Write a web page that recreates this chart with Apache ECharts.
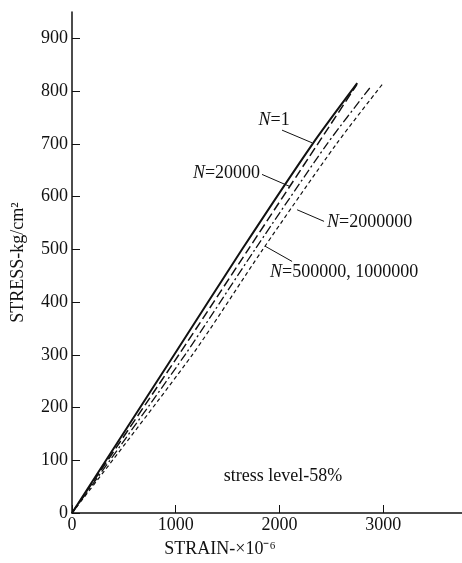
<!DOCTYPE html>
<html>
<head>
<meta charset="UTF-8">
<title>Stress-strain, stress level 58%</title>
<script src="https://cdn.jsdelivr.net/npm/echarts@6/dist/echarts.min.js"></script>
<style>body{margin:0;background:#fff}</style>
</head>
<body>
<div id="main" style="width:462px;height:563px"></div>
<script>
// strain (x10^-6) and stress (kg/cm2)
const strainN1 = [0, 985, 1640, 2320, 2750];
const stressN1 = [0, 300, 500, 700, 815];
const strainN20000 = [0, 1030, 1700, 2370, 2745];
const stressN20000 = [0, 300, 500, 700, 812];
const strainN500k = [0, 1090, 1765, 2460, 2883];
const stressN500k = [0, 300, 500, 700, 809];
const strainN2M = [0, 1160, 1840, 2550, 3000];
const stressN2M = [0, 300, 500, 700, 815];

const labelTexts = ['1', '20000', '2000000', '500000, 1000000'];
const labelAt = [[1948, 745], [1813, 645], [2459, 551], [1909, 457]];
const labelPos = ['inside', 'left', 'right', 'right'];
const leaderFrom = [[2025, 726], [1832, 642], [2170, 575], [1861, 506]];
const leaderTo = [[2314, 702], [2102, 619], [2430, 553], [2122, 477]];
const noteText = 'stress level-58%';
const noteAt = [2035, 70];

const ink = '#111';
const serif = 'Liberation Serif';

function pairs(xs, ys) { return xs.map((x, i) => [x, ys[i]]); }

function curve(name, xs, ys, type, width) {
  return {
    name: name, type: 'line', data: pairs(xs, ys),
    showSymbol: false, silent: true, smooth: 0.25,
    lineStyle: {color: ink, width: width, type: type}
  };
}

const chart = echarts.init(document.getElementById('main'));
chart.setOption({
  animation: false,
  grid: {left: 72, right: 0, top: 12, bottom: 48, containLabel: false},
  xAxis: {
    type: 'value', min: 0, max: 3760, interval: 1000,
    name: 'STRAIN-×10⁻⁶', nameLocation: 'middle', nameGap: 27,
    nameTextStyle: {fontFamily: serif, fontSize: 18, color: ink, padding: [0, 94, 0, 0]},
    axisLine: {lineStyle: {color: ink, width: 1.5}},
    axisTick: {inside: true, length: 8, lineStyle: {color: ink}},
    axisLabel: {fontFamily: serif, fontSize: 18, color: ink, margin: 3, showMaxLabel: false,
      formatter: v => (v % 1000 === 0 ? String(v) : '')},
    splitLine: {show: false}
  },
  yAxis: {
    type: 'value', min: 0, max: 950, interval: 100,
    name: 'STRESS-kg/cm²', nameLocation: 'middle', nameGap: 45, nameRotate: 90,
    nameTextStyle: {fontFamily: serif, fontSize: 18, color: ink},
    axisLine: {lineStyle: {color: ink, width: 1.5}},
    axisTick: {inside: true, length: 8, lineStyle: {color: ink}},
    axisLabel: {fontFamily: serif, fontSize: 18, color: ink, margin: 4, showMaxLabel: false,
      formatter: v => (v % 100 === 0 ? String(v) : '')},
    splitLine: {show: false}
  },
  series: [
    curve('N=1', strainN1, stressN1, 'solid', 2),
    curve('N=20000', strainN20000, stressN20000, [9, 4], 1.5),
    curve('N=500000, 1000000', strainN500k, stressN500k, [9, 3, 2, 3], 1.3),
    curve('N=2000000', strainN2M, stressN2M, [4, 3], 1.2),
    {
      type: 'line', data: [], silent: true,
      markLine: {
        symbol: 'none', silent: true, animation: false,
        label: {show: false},
        lineStyle: {color: ink, width: 1, type: 'solid'},
        data: leaderFrom.map((f, i) => [{coord: f}, {coord: leaderTo[i]}])
      },
      markPoint: {
        symbol: 'circle', symbolSize: 0, silent: true, animation: false,
        data: labelAt.map((c, i) => ({
          coord: c,
          label: {
            show: true, position: labelPos[i], distance: 0,
            formatter: '{i|N}{r|=' + labelTexts[i] + '}',
            rich: {
              i: {fontFamily: serif, fontStyle: 'italic', fontSize: 18, color: ink},
              r: {fontFamily: serif, fontSize: 18, color: ink}
            }
          }
        })).concat([{
          coord: noteAt,
          label: {show: true, position: 'inside', formatter: noteText,
            fontFamily: serif, fontSize: 18, color: ink}
        }])
      }
    }
  ]
});
</script>
</body>
</html>
